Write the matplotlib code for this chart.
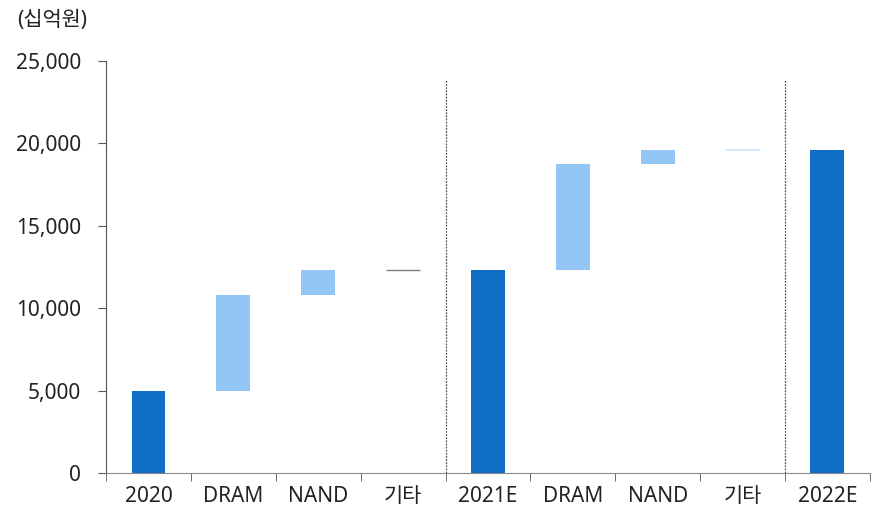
import matplotlib.pyplot as plt

plt.rcParams['font.family'] = ['Noto Sans', 'Noto Sans CJK KR', 'DejaVu Sans']

# 단위: 십억원
categories = ['2020', 'DRAM', 'NAND', '기타', '2021E', 'DRAM', 'NAND', '기타', '2022E']
bar_bottom = [0, 5000, 10810, 12330, 0, 12330, 18760, 19610, 0]
bar_height = [5000, 5810, 1520, 0, 12330, 6430, 850, 0, 19610]
is_total = [True, False, False, False, True, False, False, False, True]

yticks = [0, 5000, 10000, 15000, 20000, 25000]

dark_blue = '#0F6FC6'
light_blue = '#93C5F5'

fig = plt.figure(figsize=(8.8, 5.17), dpi=100)
ax = fig.add_axes([0.1205, 0.0845, 0.868, 0.7975])

x = list(range(len(categories)))
colors = [dark_blue if t else light_blue for t in is_total]
ax.bar(x, bar_height, bottom=bar_bottom, width=0.4, color=colors, zorder=2)

# 기타 (변화 거의 없음) - 얇은 선으로 표시
ax.hlines(bar_bottom[3], 3 - 0.2, 3 + 0.2, color='#808080', lw=1, zorder=3)
ax.hlines(bar_bottom[7], 7 - 0.2, 7 + 0.2, color='#D6E8FB', lw=1.5, zorder=3)

# 연도 구분 점선
for xv in [3.5, 7.5]:
    ax.vlines(xv, 0, 23850, color='#555555', lw=0.9, linestyles=(0, (1.5, 1)), zorder=1)

ax.set_xlim(-0.5, len(categories) - 0.5)
ax.set_ylim(0, 25000)
ax.set_yticks(yticks)
ax.set_yticklabels([f'{v:,}' for v in yticks])

ax.set_xticks(x)
ax.set_xticklabels(categories)
ax.set_xticks([i + 0.5 for i in range(-1, len(categories))], minor=True)
ax.tick_params(axis='x', which='major', length=0, pad=9, labelsize=15, colors='#222222')
ax.tick_params(axis='x', which='minor', length=6, direction='out', color='#555555')
ax.tick_params(axis='y', length=6, direction='out', labelsize=15, colors='#222222', color='#555555', pad=12)

for s in ['top', 'right']:
    ax.spines[s].set_visible(False)
ax.spines['left'].set_color('#555555')
ax.spines['bottom'].set_color('#888888')

fig.text(0.02, 0.96, '(십억원)', fontsize=15, color='#222222', va='center', ha='left')

fig.savefig('out.png', dpi=100)
